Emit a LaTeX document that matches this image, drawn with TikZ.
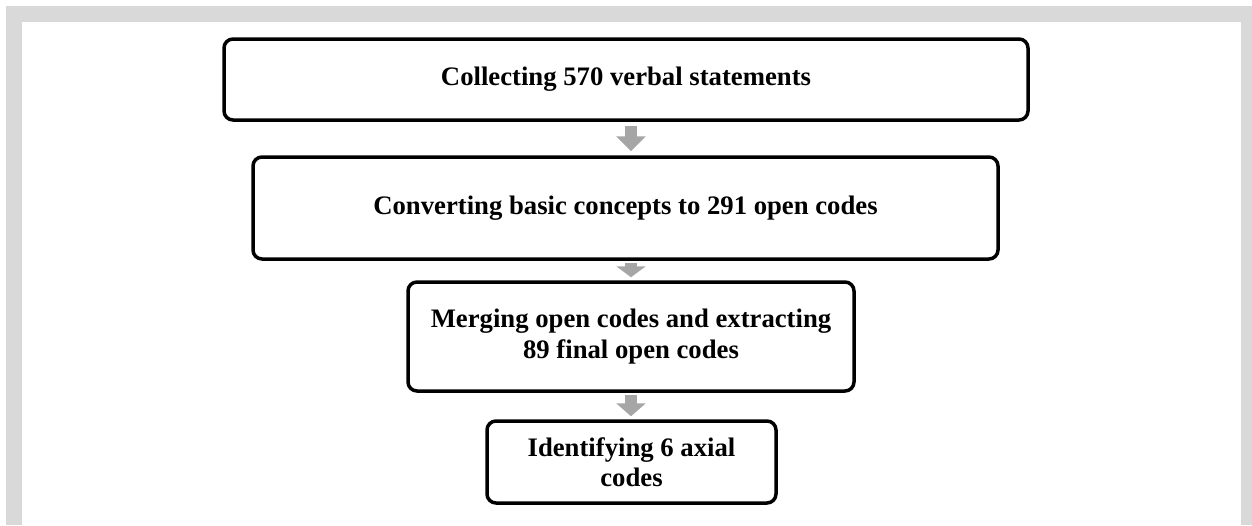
\documentclass[tikz,border=0pt]{standalone}
\usepackage{fontspec}
\setmainfont{Liberation Serif}
\usetikzlibrary{arrows.meta,calc}
\definecolor{framegray}{HTML}{D9D9D9}
\definecolor{arrowgray}{HTML}{A6A6A6}
\begin{document}
\begin{tikzpicture}[x=1pt,y=-1pt,
  stepbox/.style={draw=black,line width=3.5pt,rounded corners=9pt,align=center,
    font=\fontsize{26.7}{30}\selectfont\bfseries,inner sep=0pt},
  flow/.style={draw=arrowgray,line width=12pt,-{Triangle[width=29pt,length=#1]}}
]
\useasboundingbox (0,0) rectangle (1252,525);
\fill[framegray] (6,6) rectangle (1252,525);
\fill[white] (22,22) rectangle (1241,525);

\node[stepbox,minimum width=804pt,minimum height=81pt] (b1) at (626,79.5) {Collecting 570 verbal statements};
\node[stepbox,minimum width=745pt,minimum height=102pt] (b2) at (625.5,208) {Converting basic concepts to 291 open codes};
\node[stepbox,minimum width=446pt,minimum height=109pt] (b3) at (631,336.5) {Merging open codes and extracting\\[1pt]89 final open codes};
\node[stepbox,minimum width=289pt,minimum height=82pt] (b4) at (631.5,462) {Identifying 6 axial\\codes};

\draw[flow=15pt,shorten <=4pt,shorten >=4pt] (b1.south -| b3.center) -- (b2.north -| b3.center);
\draw[flow=11pt,shorten <=2pt,shorten >=3pt] (b2.south -| b3.center) -- (b3.north);
\draw[flow=13pt,shorten <=2pt,shorten >=3pt] (b3.south) -- (b4.north -| b3.center);
\end{tikzpicture}
\end{document}
